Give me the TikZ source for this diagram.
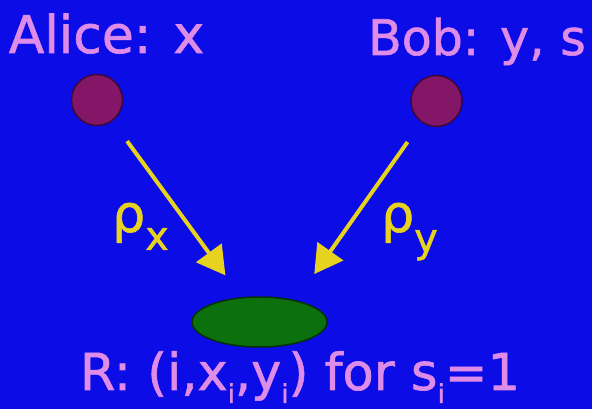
\documentclass[tikz,border=0pt]{standalone}
\usepackage{fontspec}
\setmainfont{DejaVu Sans}[FakeBold=1.2]
\usetikzlibrary{arrows.meta,shapes.geometric}
\definecolor{bgblue}{RGB}{12,12,230}
\definecolor{pinktext}{RGB}{222,140,232}
\definecolor{ballfill}{RGB}{132,22,104}
\definecolor{balledge}{RGB}{60,8,56}
\definecolor{arrowyellow}{RGB}{232,210,32}
\definecolor{greenfill}{RGB}{12,112,12}
\definecolor{greenedge}{RGB}{5,50,5}
\newcommand{\sbi}{\lower13pt\hbox{\fontsize{26}{26}\selectfont i}}
\tikzset{
  label text/.style={text=pinktext, inner sep=0pt, font=\fontsize{52}{52}\selectfont},
  rholabel/.style={text=arrowyellow, inner sep=0pt, font=\fontsize{52}{52}\selectfont},
  party/.style={circle, minimum size=51pt, inner sep=0pt, fill=ballfill, draw=balledge, line width=1.5pt},
  referee/.style={ellipse, minimum width=135pt, minimum height=50pt, inner sep=0pt, fill=greenfill, draw=greenedge, line width=1.5pt},
  flow/.style={draw=arrowyellow, line width=4pt, -{Triangle[length=28pt,width=31pt]}, arrowyellow}
}
\begin{document}
\begin{tikzpicture}[x=1pt,y=1pt]
\fill[bgblue] (0,0) rectangle (592,409);
\useasboundingbox (0,0) rectangle (592,409);
\node[label text, anchor=base] (alicet) at (106.5,356) {Alice: x};
\node[label text, anchor=base, font=\fontsize{49}{49}\selectfont] (bobt) at (477,354) {Bob: y, s};
\node[party] (alice) at (97,309) {};
\node[party] (bob) at (436.5,308) {};
\node[referee] (R) at (259.5,87) {};
\draw[flow, shorten <=24.7pt, shorten >=27pt] (alice) -- (R);
\draw[flow, shorten <=24pt, shorten >=32pt] (bob) -- (R.31);
\node[rholabel, anchor=base west] (rx) at (112,177) {ρ\lower18pt\hbox{\fontsize{40}{40}\selectfont x}};
\node[rholabel, anchor=base west] (ry) at (381,177) {ρ\lower20pt\hbox{\fontsize{40}{40}\selectfont y}};
\node[label text, anchor=base, font=\fontsize{51}{51}\selectfont] (rt) at (300,19) {R: (i,x\sbi,y\sbi) for s\sbi=1};
\end{tikzpicture}
\end{document}
